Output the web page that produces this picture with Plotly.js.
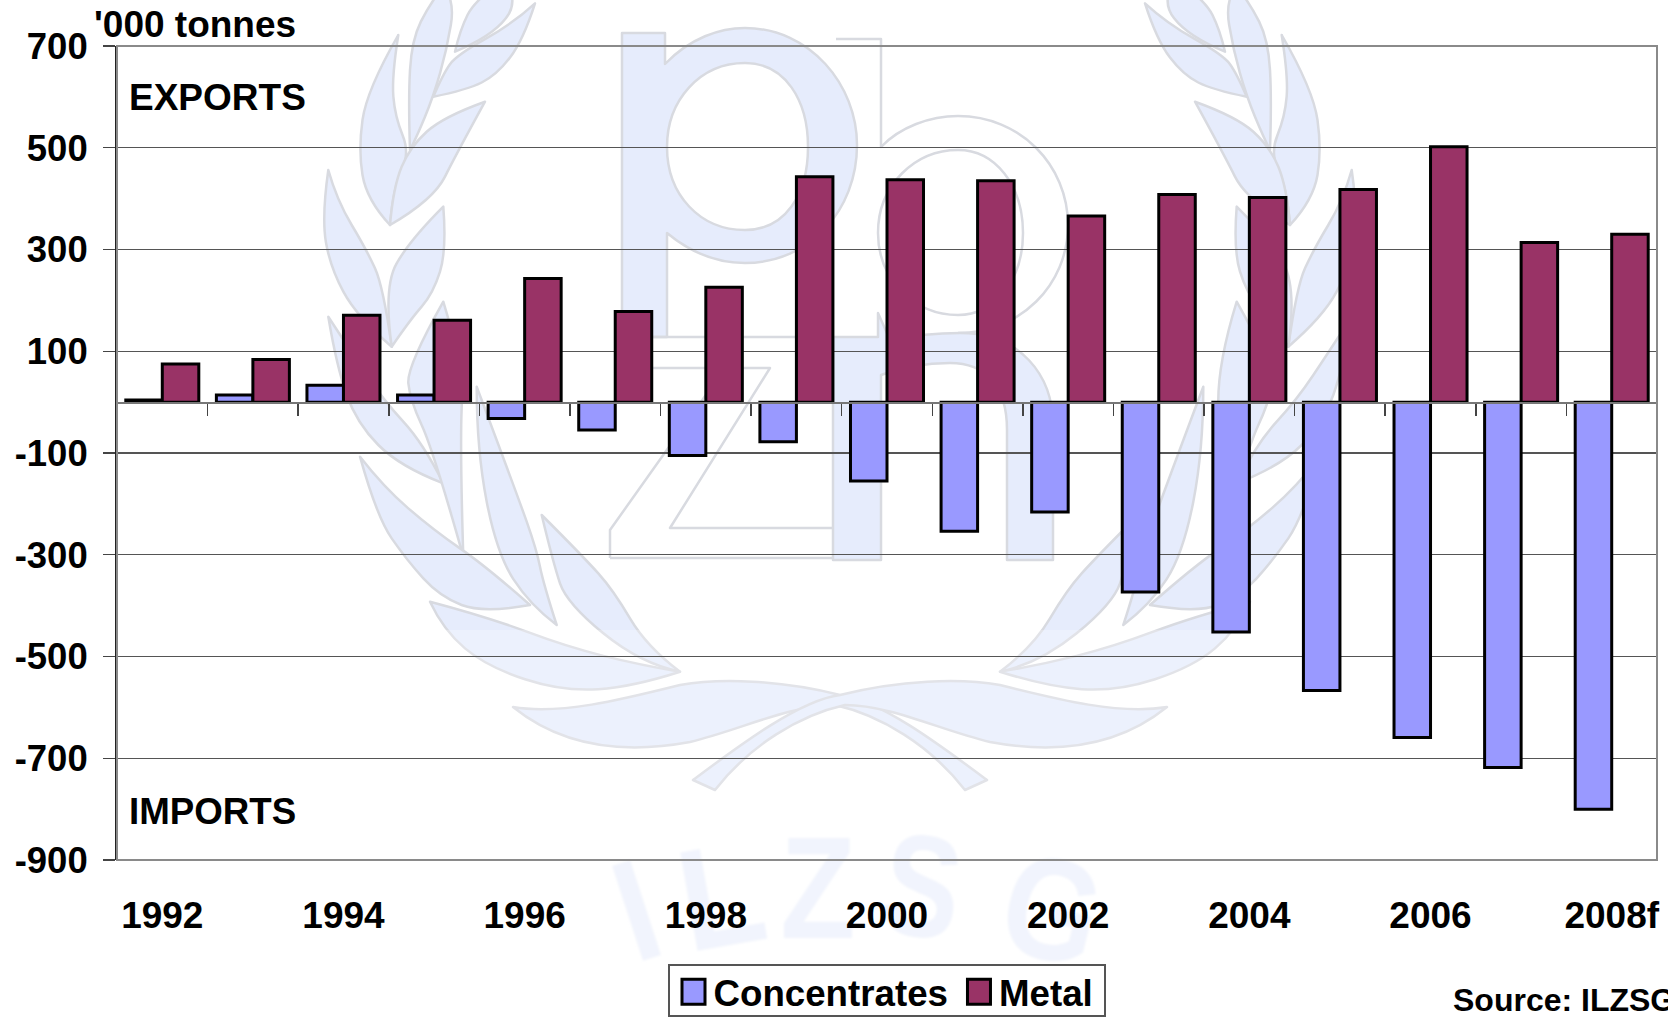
<!DOCTYPE html>
<html>
<head>
<meta charset="utf-8">
<script src="https://cdn.plot.ly/plotly-3.0.1.min.js"></script>
<style>
html,body{margin:0;padding:0;background:#fff;width:1668px;height:1017px;overflow:hidden}
#wm{position:absolute;left:0;top:0;width:1668px;height:1017px;z-index:0}
#chart{position:absolute;left:0;top:0;width:1668px;height:1017px;z-index:1}
</style>
</head>
<body>
<svg id="wm" xmlns="http://www.w3.org/2000/svg" viewBox="0 0 1668 1017"></svg>
<div id="chart"></div>
<script>
// ---- chart data ----
const categories = ["1992","1993","1994","1995","1996","1997","1998","1999","2000","2001","2002","2003","2004","2005","2006","2007","2008f"];
const tickLabels = ["1992","","1994","","1996","","1998","","2000","","2002","","2004","","2006","","2008f"];
const concentrates = [4,14,33,14,-32,-55,-105,-78,-155,-254,-216,-373,-452,-567,-659,-718,-800];
const metal = [75,84,171,161,243,178,226,443,437,435,366,408,402,418,502,314,330];
const yTickVals = [700,500,300,100,-100,-300,-500,-700,-900];
const yTickText = ["700","500","300","100","-100","-300","-500","-700","-900"];

// ---- page geometry ----
const W=1668,H=1017,L=117,R=1657,T=46,B=860;
const px=x=>(x-L)/(R-L), py=y=>(B-y)/(B-T);
const FONT='"Liberation Sans", Arial, sans-serif';

const annText=(text,x,y,size)=>({text:text,x:px(x),y:py(y),xref:'paper',yref:'paper',xanchor:'left',yanchor:'middle',showarrow:false,borderpad:0,font:{family:FONT,size:size,color:'#000',weight:700}});

const traces=[
 {type:'bar',name:'Concentrates',x:categories,y:concentrates,marker:{color:'#9999FF',line:{color:'#000',width:3}},hoverinfo:'x+y+name'},
 {type:'bar',name:'Metal',x:categories,y:metal,marker:{color:'#993366',line:{color:'#000',width:3}},hoverinfo:'x+y+name'}
];
const layout={
 width:W,height:H,autosize:false,
 margin:{l:L,r:W-R,t:T,b:H-B,pad:0},
 paper_bgcolor:'rgba(0,0,0,0)',plot_bgcolor:'rgba(0,0,0,0)',
 font:{family:FONT,size:36,color:'#000',weight:700},
 barmode:'group',bargap:0.194,bargroupgap:0,
 xaxis:{type:'category',categoryorder:'array',categoryarray:categories,anchor:'free',position:900/1600,
  tickmode:'array',tickvals:categories,ticktext:tickLabels,tickson:'boundaries',ticks:'outside',ticklen:12,tickwidth:1.5,tickcolor:'#444',
  ticklabelstandoff:480,showline:true,linecolor:'#777',linewidth:1.5,showgrid:false,zeroline:false,automargin:false,tickangle:0,
  tickfont:{family:FONT,size:37,color:'#000',weight:700}},
 yaxis:{range:[-900,700],tickmode:'array',tickvals:yTickVals,ticktext:yTickText,ticks:'outside',ticklen:12,tickwidth:1.2,tickcolor:'#444',
  showgrid:true,gridcolor:'#555',gridwidth:1.2,zeroline:false,showline:true,linecolor:'#222',linewidth:2,automargin:false,ticklabelstandoff:8,
  tickfont:{family:FONT,size:36.5,color:'#000',weight:700}},
 showlegend:true,
 legend:{orientation:'h',xref:'container',yref:'container',x:668/W,y:1-964/H,xanchor:'left',yanchor:'top',bgcolor:'#fff',bordercolor:'#555',borderwidth:1.5,
  font:{family:FONT,size:36.7,color:'#000',weight:700}},
 shapes:[{type:'rect',xref:'paper',yref:'paper',x0:0,x1:1,y0:0,y1:1,line:{color:'#8a8a8a',width:2},fillcolor:'rgba(0,0,0,0)',layer:'above'}],
 annotations:[
  annText("'000 tonnes",93,25,37),
  annText("EXPORTS",128,97,37),
  annText("IMPORTS",128,811,36.7),
  annText("Source: ILZSG",1452,1000,32)
 ]
};

// ---- background emblem (decoration only, not data) ----
function smooth(p){let d='';for(let i=1;i<p.length-1;i++){const m=[(p[i][0]+p[i+1][0])/2,(p[i][1]+p[i+1][1])/2];d+=i==p.length-2?`Q${p[i]} ${p[i+1]}`:`Q${p[i]} ${m}`;}if(p.length==2)d+=`L${p[1]}`;return d;}
function leaf(o,tip,e1,e2){const f=q=>[+(o[0]+q[0]/3).toFixed(1),+(o[1]+q[1]/3).toFixed(1)];
 const a=[tip,...e1].map(f),b=[tip,...e2].map(f).reverse();
 return `M${a[0]}`+smooth(a)+smooth(b)+'Z';}
const Z4=[300,0],Z6=[300,450];
const leaves=[
 leaf(Z4,[610,-60],[[525,0],[480,90],[465,155]],[[660,0],[575,110],[465,155]]),
 leaf(Z4,[705,10],[[670,120],[590,225],[500,270],[400,290]],[[640,70],[470,165],[430,220],[400,290]]),
 leaf(Z4,[430,-40],[[390,10],[335,120],[325,300],[330,450]],[[465,0],[440,150],[400,290],[350,410],[330,450]]),
 leaf(Z4,[295,105],[[200,270],[175,450],[200,600],[270,675]],[[275,230],[285,350],[330,460],[280,560],[270,675]]),
 leaf(Z4,[555,305],[[470,460],[400,600],[270,675]],[[430,350],[330,440],[280,560],[270,675]]),
 leaf(Z4,[85,510],[[65,650],[90,800],[170,950],[275,1040]],[[110,600],[200,750],[250,860],[275,1040]]),
 leaf(Z4,[430,620],[[440,750],[400,880],[330,960],[275,1040]],[[330,720],[250,860],[275,1040]]),
 leaf(Z4,[85,950],[[110,1100],[170,1270],[300,1400],[430,1450]],[[150,1050],[250,1200],[370,1330],[430,1450]]),
 leaf(Z4,[430,905],[[320,1100],[330,1200],[400,1350],[490,1670]],[[490,1100],[480,1350],[490,1670]]),
 leaf(Z6,[180,20],[[230,200],[320,330],[420,440],[550,490],[690,465]],[[250,110],[400,240],[560,350],[690,465]]),
 leaf(Z6,[530,-190],[[530,0],[590,310],[690,465],[770,525]],[[650,130],[710,300],[730,400],[770,525]]),
 leaf(Z6,[725,195],[[760,340],[800,460],[1020,640],[1140,665]],[[850,320],[940,420],[1040,590],[1140,665]]),
 leaf(Z6,[390,455],[[430,540],[560,650],[790,725],[1000,710],[1140,665]],[[560,500],[800,590],[1020,645],[1140,665]])
];
const swoosh="M513,707C560,715 620,700 680,685C720,678 780,680 840,695C880,700 940,745 987,780L965,790C930,745 880,715 835,705C790,705 740,730 690,742C620,755 560,745 513,707Z";
const leafPaths=leaves.concat([swoosh]).map(d=>`<path d="${d}"/>`).join('');
const letterGlyph=(ch,x,y,rot,sx)=>`<text transform="translate(${x},${y}) rotate(${rot}) scale(${sx},1)" text-anchor="middle">${ch}</text>`;
document.getElementById('wm').innerHTML=`
 <defs><filter id="soft"><feGaussianBlur stdDeviation="1.2"/></filter></defs>
 <g fill="#E6ECFC" stroke="#D8DAE0" stroke-width="2.5" stroke-linejoin="round">
  <g id="branch">${leafPaths}</g>
  <g transform="translate(1680,0) scale(-1,1)">${leafPaths}</g>
  <path fill-rule="evenodd" d="M622,33H665V64C690,38 720,28 745,28C810,28 857,85 857,145C857,210 810,263 745,263C715,263 690,252 667,233V337H622Z M745,63C700,63 667,100 667,147C667,195 700,230 745,230C785,230 808,195 808,147C808,100 785,63 745,63Z"/>
  <path fill="none" d="M836,39H881V147C900,127 930,116 958,116C1020,116 1068,165 1068,225C1068,285 1020,333 958,333"/>
  <path fill="none" d="M958,150C915,150 878,185 878,233C878,280 915,315 958,315C995,315 1023,280 1023,233C1023,185 995,150 958,150Z"/>
  <path fill="none" d="M653,337H833M653,368H770L670,528H833M610,558H833M610,558V530L725,368"/>
  <path d="M833,337H878V313L890,340C915,335 935,333 960,333C1020,333 1053,375 1053,425V560H1007V430C1007,385 985,363 950,363C925,363 900,368 881,375V560H833Z"/>
 </g>
 <g fill="#EDF1FC" filter="url(#soft)" font-family="Liberation Sans, Arial, sans-serif" font-size="145" font-weight="700">
  ${letterGlyph('I',652,958,-18,.9)}${letterGlyph('L',730,945,-10,.95)}${letterGlyph('Z',818,938,0,.85)}${letterGlyph('S',915,936,8,.8)}${letterGlyph('G',1040,958,14,.85)}
 </g>
 <rect x="0" y="630" width="1668" height="387" fill="#fff" opacity=".25"/>`;

Plotly.newPlot('chart',traces,layout,{displayModeBar:false,staticPlot:true}).then(()=>{
 const legendEl=document.querySelector('#chart .legend');
 legendEl.querySelectorAll('.legendbar path, .legendpoints path').forEach(p=>{
  p.setAttribute('d','M11.5,12.5H-11.5V-12.5H11.5Z');
 });
 // fit the legend box to the reference's proportions
 const bg=legendEl.querySelector('.bg');
 bg.setAttribute('width',436); bg.setAttribute('height',51);
 const box=legendEl.querySelector('.scrollbox');
 if(box) box.removeAttribute('clip-path');
 const shiftX=[4,10];
 legendEl.querySelectorAll('.traces').forEach((g,i)=>{
  const m=/translate\(([-\d.]+),\s*([-\d.]+)\)/.exec(g.getAttribute('transform'));
  if(m) g.setAttribute('transform',`translate(${+m[1]+shiftX[i]},${+m[2]-4})`);
 });
});
</script>
</body>
</html>
